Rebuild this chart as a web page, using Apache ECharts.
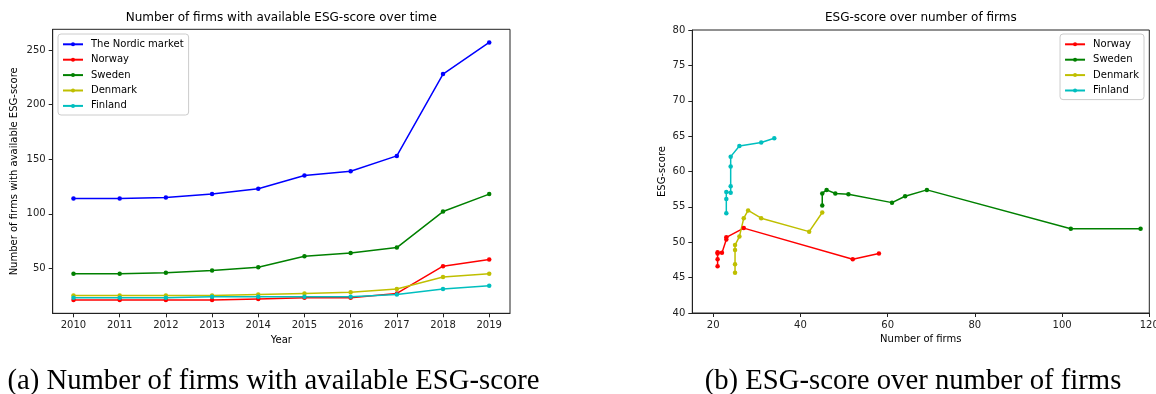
<!DOCTYPE html>
<html>
<head>
<meta charset="utf-8">
<script src="https://cdn.jsdelivr.net/npm/echarts@6/dist/echarts.min.js"></script>
<style>
html, body { margin: 0; padding: 0; background: #fff; }
#chart { width: 1156px; height: 394px; }
</style>
</head>
<body>
<div id="chart"></div>
<script>
// number of firms per year (left chart, also the x values of the right chart)
const years = [2010, 2011, 2012, 2013, 2014, 2015, 2016, 2017, 2018, 2019];
const nordicFirms  = [114, 114, 115, 118, 123, 135, 139, 153, 228, 257];
const norwayFirms  = [21, 21, 21, 21, 22, 23, 23, 27, 52, 58];
const swedenFirms  = [45, 45, 46, 48, 51, 61, 64, 69, 102, 118];
const denmarkFirms = [25, 25, 25, 25, 26, 27, 28, 31, 42, 45];
const finlandFirms = [23, 23, 23, 24, 24, 24, 24, 26, 31, 34];

// average ESG-score per year (right chart)
const norwayScore  = [46.6, 47.6, 48.6, 48.4, 48.5, 50.4, 50.7, 52.0, 47.6, 48.4];
const swedenScore  = [55.2, 56.9, 57.4, 56.9, 56.8, 55.6, 56.5, 57.4, 51.9, 51.9];
const denmarkScore = [45.7, 46.9, 48.9, 49.6, 50.8, 53.4, 54.5, 53.4, 51.5, 54.2];
const finlandScore = [54.1, 56.1, 57.1, 57.0, 57.9, 60.7, 62.1, 63.6, 64.1, 64.7];

// tick labels
const yearTicks  = years;
const countTicks = [50, 100, 150, 200, 250];
const firmTicks  = [20, 40, 60, 80, 100, 120];

const FONT = 'DejaVu Sans';
const AXIS = '#222';

function zip(xs, ys) {
  return xs.map((x, i) => [x, ys[i]]);
}

function line(name, color, data, idx) {
  return {
    name: name,
    type: 'line',
    xAxisIndex: idx,
    yAxisIndex: idx,
    data: data,
    symbol: 'circle',
    symbolSize: 4.5,
    showSymbol: true,
    color: color,
    lineStyle: { width: 1.5, color: color },
    itemStyle: { color: color },
    emphasis: { disabled: true },
    animation: false
  };
}

function axisBase(name, gap) {
  return {
    type: 'value',
    name: name,
    nameLocation: 'middle',
    nameGap: gap,
    nameTextStyle: { fontFamily: FONT, fontSize: 10, color: '#000' },
    axisLine: { show: true, lineStyle: { color: AXIS, width: 1 } },
    axisTick: { show: true, inside: false, length: 4, lineStyle: { color: AXIS } },
    axisLabel: { fontFamily: FONT, fontSize: 10, color: '#222', margin: 7, formatter: v => String(v) },
    splitLine: { show: false }
  };
}

function withTicks(ax, ticks) {
  ax.axisTick.customValues = ticks;
  ax.axisLabel.customValues = ticks;
  return ax;
}

const legendBase = {
  orient: 'vertical',
  top: 34,
  itemWidth: 20,
  itemHeight: 5,
  itemGap: 4.4,
  padding: [4.8, 5, 3.6, 4],
  borderColor: '#ccc',
  borderWidth: 1,
  borderRadius: 3,
  backgroundColor: 'rgba(255,255,255,0.8)',
  textStyle: { fontFamily: FONT, fontSize: 10, color: '#000', lineHeight: 11, padding: [0, 0, 0, 3] },
  selectedMode: false
};

const chart = echarts.init(document.getElementById('chart'), null, { renderer: 'canvas' });

const option = {
  animation: false,
  backgroundColor: '#fff',
  grid: [
    { left: 52.7, right: 646, top: 29.3, bottom: 80.7, show: true, borderColor: AXIS, borderWidth: 1, backgroundColor: 'transparent', outerBoundsMode: 'none' },
    { left: 692.3, right: 6.7, top: 30, bottom: 81, show: true, borderColor: AXIS, borderWidth: 1, backgroundColor: 'transparent', outerBoundsMode: 'none' }
  ],
  xAxis: [
    Object.assign(withTicks(axisBase('Year', 21), yearTicks), { gridIndex: 0, min: 2009.55, max: 2019.45 }),
    Object.assign(withTicks(axisBase('Number of firms', 21), firmTicks), { gridIndex: 1, min: 15.2, max: 120 })
  ],
  yAxis: [
    Object.assign(withTicks(axisBase('Number of firms with available ESG-score', 33), countTicks), { gridIndex: 0, min: 8.8, max: 269 }),
    Object.assign(axisBase('ESG-score', 25), { gridIndex: 1, min: 40, max: 80, interval: 5 })
  ],
  legend: [
    Object.assign({}, legendBase, { left: 58, data: ['The Nordic market', 'Norway', 'Sweden', 'Denmark', 'Finland'] }),
    Object.assign({}, legendBase, { right: 12, data: ['Norway', 'Sweden', 'Denmark', 'Finland'] })
  ],
  graphic: [
    { type: 'text', x: 281.3, y: 18.3, style: { text: 'Number of firms with available ESG-score over time', font: '12px "DejaVu Sans"', fill: '#000', align: 'center', verticalAlign: 'middle' } },
    { type: 'text', x: 920.8, y: 18.3, style: { text: 'ESG-score over number of firms', font: '12px "DejaVu Sans"', fill: '#000', align: 'center', verticalAlign: 'middle' } },
    { type: 'text', x: 273.5, y: 381, style: { text: '(a) Number of firms with available ESG-score', font: '28.7px "Liberation Serif"', fill: '#000', align: 'center', verticalAlign: 'middle' } },
    { type: 'text', x: 913, y: 381, style: { text: '(b) ESG-score over number of firms', font: '28.7px "Liberation Serif"', fill: '#000', align: 'center', verticalAlign: 'middle' } }
  ],
  series: [
    line('The Nordic market', '#0000ff', zip(years, nordicFirms), 0),
    line('Norway', '#ff0000', zip(years, norwayFirms), 0),
    line('Sweden', '#008000', zip(years, swedenFirms), 0),
    line('Denmark', '#bfbf00', zip(years, denmarkFirms), 0),
    line('Finland', '#00bfbf', zip(years, finlandFirms), 0),
    line('Norway', '#ff0000', zip(norwayFirms, norwayScore), 1),
    line('Sweden', '#008000', zip(swedenFirms, swedenScore), 1),
    line('Denmark', '#bfbf00', zip(denmarkFirms, denmarkScore), 1),
    line('Finland', '#00bfbf', zip(finlandFirms, finlandScore), 1)
  ]
};

chart.setOption(option);
</script>
</body>
</html>
